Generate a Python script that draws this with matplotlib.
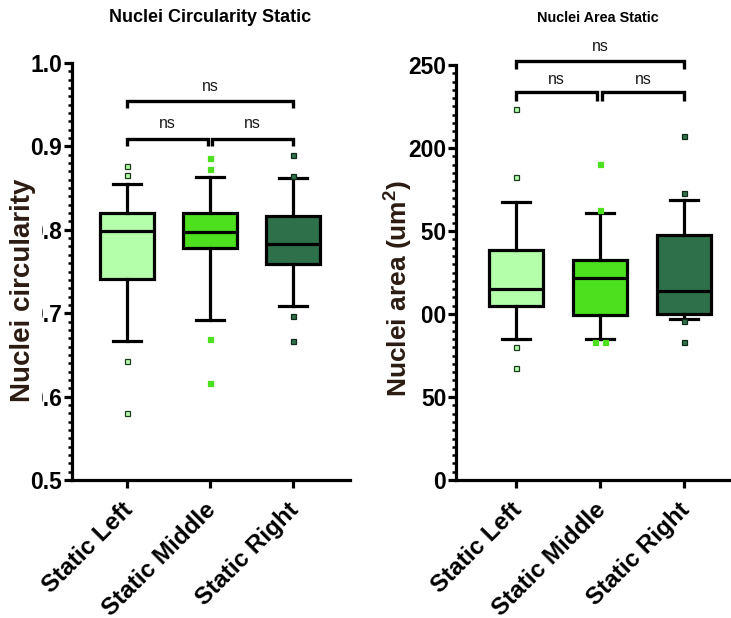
import matplotlib
matplotlib.use('Agg')
import matplotlib.pyplot as plt
import matplotlib.transforms as mtransforms
from matplotlib.ticker import MultipleLocator, FormatStrFormatter

plt.rcParams['font.family'] = ['Liberation Sans', 'DejaVu Sans']
plt.rcParams['mathtext.fontset'] = 'custom'
plt.rcParams['mathtext.rm'] = 'Liberation Sans:bold'
plt.rcParams['mathtext.bf'] = 'Liberation Sans:bold'

groups = ['Static Left', 'Static Middle', 'Static Right']
box_colors = ['#b3ffaa', '#4ce01e', '#2e7049']
flier_edges = ['#1e3a1e', '#4ce01e', '#0f2a18']

# nuclei circularity (box stats)
circ_q1 = [0.741, 0.778, 0.759]
circ_med = [0.798, 0.797, 0.783]
circ_q3 = [0.820, 0.820, 0.816]
circ_lo = [0.667, 0.692, 0.709]
circ_hi = [0.855, 0.863, 0.862]
circ_out = [[0.876, 0.866, 0.643, 0.580],
            [0.886, 0.873, 0.669, 0.616],
            [0.890, 0.865, 0.697, 0.667]]

# nuclei area
area_q1 = [104.8, 99.4, 99.8]
area_med = [115.1, 121.5, 113.9]
area_q3 = [138.6, 132.5, 147.6]
area_lo = [84.8, 84.9, 96.8]
area_hi = [167.3, 160.6, 168.7]
area_out = [[223.5, 182.4, 80.3, 67.3],
            [190.2, 162.5, 83.0, 83.0],
            [207.2, 172.7, 95.8, 82.9]]


def draw_boxes(ax, q1, med, q3, lo, hi, out):
    stats = []
    for i in range(len(groups)):
        stats.append({'q1': q1[i], 'med': med[i], 'q3': q3[i],
                      'whislo': lo[i], 'whishi': hi[i], 'fliers': []})
    pos = [1, 2, 3]
    b = ax.bxp(stats, positions=pos, widths=0.65, capwidths=0.33,
               patch_artist=True, showfliers=False,
               boxprops=dict(linewidth=2.3, edgecolor='black'),
               medianprops=dict(color='black', linewidth=2.3),
               whiskerprops=dict(color='black', linewidth=2.3),
               capprops=dict(color='black', linewidth=2.3))
    for patch, c in zip(b['boxes'], box_colors):
        patch.set_facecolor(c)
    # outliers; repeated values are put side by side
    for i, vals in enumerate(out):
        for j, v in enumerate(vals):
            x = pos[i]
            n_same = vals.count(v)
            if n_same > 1:
                k = [m for m in range(len(vals)) if vals[m] == v].index(j)
                x = pos[i] + (k - (n_same - 1) / 2) * 0.12
            ax.plot([x], [v], marker='s', markersize=3.6, linestyle='none',
                    markerfacecolor=box_colors[i], markeredgecolor=flier_edges[i],
                    markeredgewidth=0.9, zorder=4, clip_on=False)


def bracket(ax, x1, x2, y, h, dy, txt='ns'):
    ax.plot([x1, x1, x2, x2], [y - h, y, y, y - h], color='black', lw=2.4,
            clip_on=False, solid_capstyle='butt', solid_joinstyle='miter')
    ax.text((x1 + x2) / 2, y + dy, txt, ha='center', va='center',
            fontsize=11.5, color='#1a1a1a', clip_on=False)


def style_axis(ax):
    for s in ['top', 'right']:
        ax.spines[s].set_visible(False)
    for s in ['left', 'bottom']:
        ax.spines[s].set_linewidth(2.3)
    ax.tick_params(axis='y', which='major', length=6, width=2.3, labelsize=16.5, pad=1)
    ax.tick_params(axis='y', which='minor', length=3, width=1.8)
    ax.tick_params(axis='x', which='major', length=6, width=2.3, labelsize=17.5, pad=7)
    ax.set_xticks([1, 2, 3])
    ax.set_xticklabels(groups, rotation=45, ha='right', rotation_mode='anchor',
                       fontweight='bold')
    shift = mtransforms.ScaledTranslation(-4 / 72, 0, fig.dpi_scale_trans)
    for t in ax.get_xticklabels():
        t.set_transform(t.get_transform() + shift)
    for t in ax.get_yticklabels():
        t.set_fontweight('bold')


fig = plt.figure(figsize=(7.31, 6.18), dpi=100)

# left panel
ax1 = fig.add_axes([72 / 731, 138 / 618, 278 / 731, 417 / 618])
draw_boxes(ax1, circ_q1, circ_med, circ_q3, circ_lo, circ_hi, circ_out)
ax1.set_ylim(0.5, 1.0)
ax1.set_xlim(0.337, 3.687)
ax1.yaxis.set_major_locator(MultipleLocator(0.1))
ax1.yaxis.set_minor_locator(MultipleLocator(0.01))
ax1.yaxis.set_major_formatter(FormatStrFormatter('%.1f'))
style_axis(ax1)
bracket(ax1, 1.0, 1.97, 0.909, 0.0085, 0.018)
bracket(ax1, 2.03, 3.0, 0.909, 0.0085, 0.018)
bracket(ax1, 1.0, 3.0, 0.954, 0.0085, 0.018)
ax1.set_ylabel('Nuclei circularity', fontsize=20, fontweight='bold', color='#2b1b12',
               va='center', bbox=dict(boxstyle='square,pad=0.22', fc='white', ec='none'))
ax1.yaxis.set_label_coords(-0.178, 0.456)

# right panel
ax2 = fig.add_axes([456 / 731, 138 / 618, 275 / 731, 415 / 618])
draw_boxes(ax2, area_q1, area_med, area_q3, area_lo, area_hi, area_out)
ax2.set_ylim(0, 250)
ax2.set_xlim(0.286, 3.56)
ax2.yaxis.set_major_locator(MultipleLocator(50))
ax2.yaxis.set_minor_locator(MultipleLocator(5))
style_axis(ax2)
bracket(ax2, 1.0, 1.97, 233.5, 5, 8)
bracket(ax2, 2.03, 3.0, 233.5, 5, 8)
bracket(ax2, 1.0, 3.0, 252.4, 5, 9)
ax2.set_ylabel('Nuclei area (um$^{2}$)', fontsize=19, fontweight='bold', color='#2b1b12',
               va='center', bbox=dict(boxstyle='square,pad=0.3', fc='white', ec='none'))
ax2.yaxis.set_label_coords(-0.211, 0.461)

fig.text(210 / 731, 1 - 18 / 618, 'Nuclei Circularity Static', fontsize=13,
         fontweight='bold', ha='center', va='center')
fig.text(598 / 731, 1 - 18 / 618, 'Nuclei Area Static', fontsize=10.4,
         fontweight='bold', ha='center', va='center')

fig.savefig('out.png', dpi=100)
